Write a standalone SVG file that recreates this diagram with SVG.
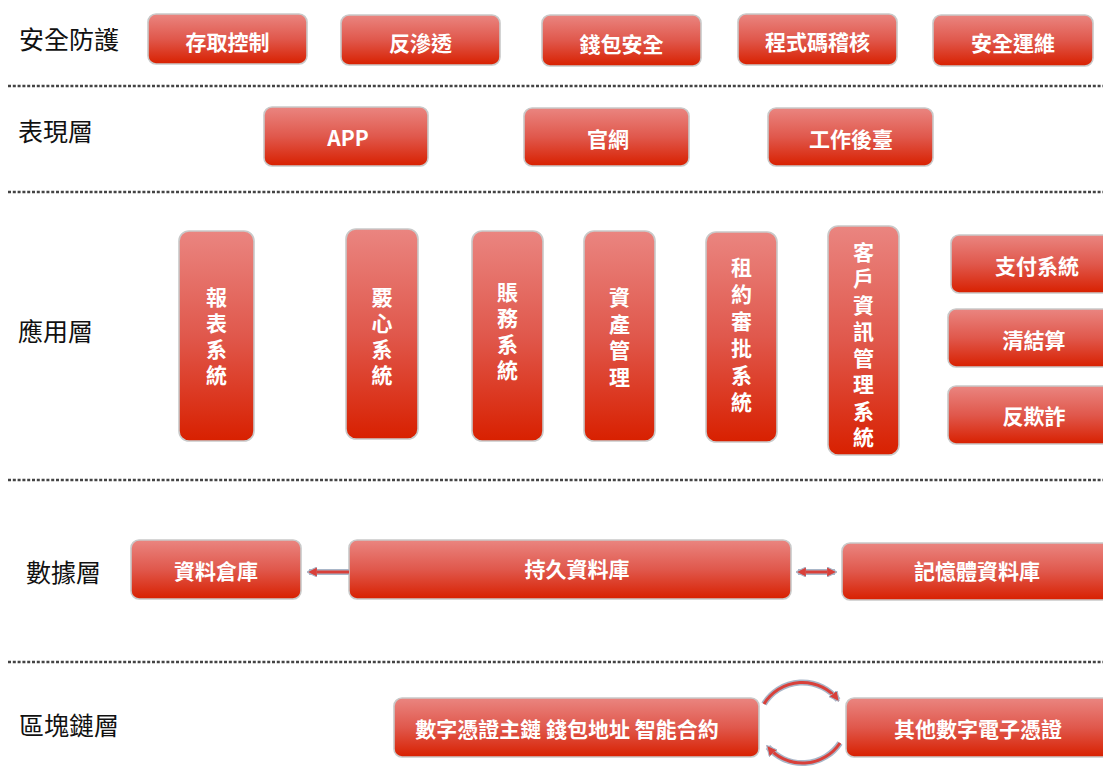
<svg xmlns="http://www.w3.org/2000/svg" width="1103" height="767" viewBox="0 0 1103 767">
<defs>
<linearGradient id="g" x1="0" y1="0" x2="0" y2="1">
<stop offset="0" stop-color="#EA8580"/>
<stop offset="0.5" stop-color="#E0584C"/>
<stop offset="1" stop-color="#D82000"/>
</linearGradient>
<marker id="ah" viewBox="0 0 10 10" refX="8" refY="5" markerWidth="3.5" markerHeight="3.5" orient="auto-start-reverse" markerUnits="strokeWidth">
<path d="M0,0 L10,5 L0,10 Z" fill="#D9403A" stroke="#A9B6C8" stroke-width="1"/>
</marker>
</defs>
<style>
.box{fill:url(#g);stroke:#C9C9C9;stroke-width:1.6}
.t{font-family:"Noto Sans CJK TC","Noto Sans",sans-serif;font-size:21px;font-weight:bold;fill:#fff;text-anchor:middle;dominant-baseline:central}
.v{font-family:"Noto Sans CJK TC",sans-serif;font-size:21px;font-weight:bold;fill:#fff;text-anchor:middle;writing-mode:vertical-rl;text-orientation:upright;letter-spacing:5px}
.lbl{font-family:"Noto Sans CJK TC","Noto Sans",sans-serif;font-size:25px;fill:#111;dominant-baseline:central}
.dot{stroke:#444;stroke-width:2.5;stroke-dasharray:3 1.8;fill:none}
.ol{stroke:#A9B6C8;stroke-width:6;fill:none}
.ln{stroke:#D9403A;stroke-width:3;fill:none}
</style>
<rect width="1103" height="767" fill="#fff"/>
<g id="separators">
<line class="dot" x1="8" y1="86" x2="1103" y2="86"/>
<line class="dot" x1="8" y1="192" x2="1103" y2="192"/>
<line class="dot" x1="8" y1="480" x2="1103" y2="480"/>
<line class="dot" x1="8" y1="662" x2="1103" y2="662"/>
</g>
<g id="layer-labels">
<text class="lbl" x="19" y="38">安全防護</text>
<text class="lbl" x="18" y="130">表現層</text>
<text class="lbl" x="18" y="330">應用層</text>
<text class="lbl" x="26" y="571">數據層</text>
<text class="lbl" x="19" y="724">區塊鏈層</text>
</g>
<g id="n-access"><rect class="box" x="148" y="14" width="159" height="50" rx="8"/><text class="t" x="227.5" y="41">存取控制</text></g>
<g id="n-antipen"><rect class="box" x="341" y="15" width="159" height="50" rx="8"/><text class="t" x="420.5" y="42">反滲透</text></g>
<g id="n-wallet"><rect class="box" x="542" y="15" width="159" height="51" rx="8"/><text class="t" x="621.5" y="43">錢包安全</text></g>
<g id="n-audit"><rect class="box" x="738" y="14" width="159" height="51" rx="8"/><text class="t" x="817.5" y="41">程式碼稽核</text></g>
<g id="n-ops"><rect class="box" x="933" y="15" width="160" height="51" rx="8"/><text class="t" x="1013" y="42">安全運維</text></g>

<g id="n-app"><rect class="box" x="264" y="107" width="164" height="59" rx="8"/><text class="t" x="348" y="137">APP</text></g>
<g id="n-web"><rect class="box" x="524" y="108" width="165" height="58" rx="8"/><text class="t" x="608" y="138">官網</text></g>
<g id="n-backend"><rect class="box" x="768" y="108" width="165" height="58" rx="8"/><text class="t" x="851" y="138">工作後臺</text></g>

<g id="n-report"><rect class="box" x="179" y="231" width="75" height="210" rx="10"/><text class="v" x="216.5" y="338.5">報表系統</text></g>
<g id="n-core"><rect class="box" x="346" y="229" width="72" height="210" rx="10"/><text class="v" x="382" y="338.5">覈心系統</text></g>
<g id="n-account"><rect class="box" x="472" y="231" width="71" height="210" rx="10"/><text class="v" x="507.5" y="333.5">賬務系統</text></g>
<g id="n-asset"><rect class="box" x="584" y="231" width="71" height="210" rx="10"/><text class="v" x="619.5" y="340" style="letter-spacing:5.5px">資產管理</text></g>
<g id="n-lease"><rect class="box" x="706" y="232" width="71" height="210" rx="10"/><text class="v" x="741.5" y="337.5" style="letter-spacing:6px">租約審批系統</text></g>
<g id="n-crm"><rect class="box" x="828" y="226" width="71" height="229" rx="10"/><text class="v" x="863.5" y="347.5" style="letter-spacing:5.5px">客戶資訊管理系統</text></g>
<g id="n-pay"><rect class="box" x="951" y="235" width="175" height="58" rx="8"/><text class="t" x="1037" y="265">支付系統</text></g>
<g id="n-clear"><rect class="box" x="948" y="309" width="175" height="58" rx="8"/><text class="t" x="1034" y="339">清結算</text></g>
<g id="n-fraud"><rect class="box" x="948" y="386" width="175" height="58" rx="8"/><text class="t" x="1034" y="415">反欺詐</text></g>

<g id="n-dw"><rect class="box" x="131" y="540" width="170" height="59" rx="8"/><text class="t" x="216" y="570">資料倉庫</text></g>
<g id="n-persist"><rect class="box" x="349" y="540" width="442" height="59" rx="8"/><text class="t" x="577" y="568">持久資料庫</text></g>
<g id="n-mem"><rect class="box" x="842" y="543" width="270" height="57" rx="8"/><text class="t" x="977" y="570">記憶體資料庫</text></g>

<g id="n-chain"><rect class="box" x="394" y="698" width="365" height="59" rx="8"/><text class="t" x="567" y="728">數字憑證主鏈 錢包地址 智能合約</text></g>
<g id="n-other"><rect class="box" x="846" y="698" width="265" height="59" rx="8"/><text class="t" x="978" y="728">其他數字電子憑證</text></g>

<g id="connectors">
<line class="ol" x1="349" y1="572" x2="309" y2="572"/>
<line class="ln" x1="349" y1="572" x2="309" y2="572" marker-end="url(#ah)"/>
<line class="ol" x1="798" y1="572" x2="835" y2="572"/>
<line class="ln" x1="798" y1="572" x2="835" y2="572" marker-start="url(#ah)" marker-end="url(#ah)"/>
<path class="ol" d="M764 704 A45 45 0 0 1 838 700"/>
<path class="ln" d="M764 704 A45 45 0 0 1 838 700" marker-end="url(#ah)"/>
<path class="ol" d="M840 743 A45 45 0 0 1 768 747"/>
<path class="ln" d="M840 743 A45 45 0 0 1 768 747" marker-end="url(#ah)"/>
</g>
</svg>
